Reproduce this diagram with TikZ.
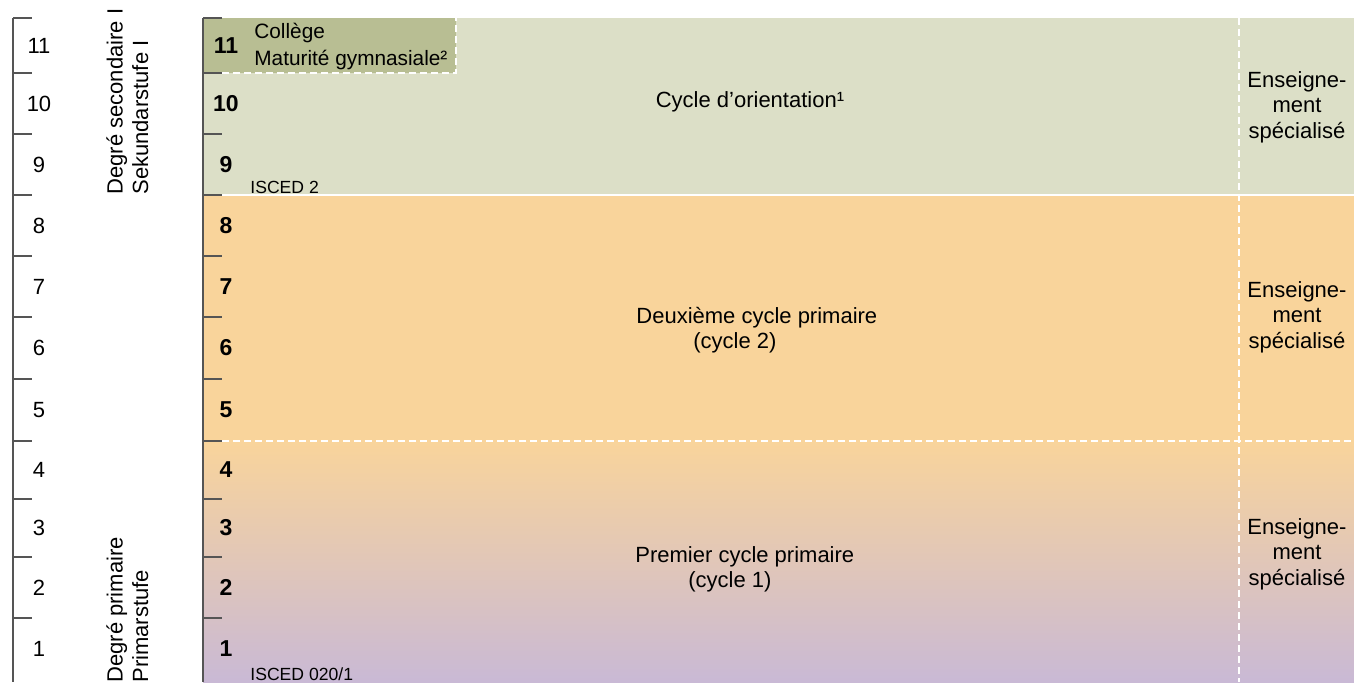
\documentclass[tikz,border=0pt]{standalone}
\usepackage{fontspec}
\setmainfont{Liberation Sans}
\definecolor{secgreen}{HTML}{DCDFC7}
\definecolor{collgreen}{HTML}{B8BE93}
\definecolor{primorange}{HTML}{F9D49B}
\definecolor{primpurple}{HTML}{C9B9D5}
\definecolor{axisgray}{HTML}{555555}
\tikzset{
  lbl/.style={font=\fontsize{11}{12.75}\selectfont, inner sep=0pt},
  grade/.style={font=\fontsize{11.5}{12.75}\selectfont\bfseries, inner sep=0pt},
  isced/.style={font=\fontsize{8.8}{10}\selectfont, inner sep=0pt, anchor=base west},
  axis/.style={axisgray, line width=0.75pt},
  whiteline/.style={white, line width=0.6pt},
  cut/.style={white, line width=0.6pt, dash pattern=on 3.5pt off 2pt}
}
\begin{document}
\begin{tikzpicture}[x=0.5pt,y=-0.5pt]
  \useasboundingbox (0,0) rectangle (1354,682);
  % bands
  \fill[secgreen] (203,18) rectangle (1354,195);
  \fill[primorange] (203,195) rectangle (1354,441);
  \shade[top color=primorange,bottom color=primpurple] (203,441) rectangle (1354,682);
  \fill[collgreen] (203,18) rectangle (456,73);
  \draw[whiteline] (222,195) -- (1354,195);
  \draw[cut] (222,441) -- (1354,441);
  \draw[cut] (1239,18) -- (1239,682);
  \draw[cut] (222,73) -- (456,73) -- (456,18);
  % scales
  \draw[axis] (13,18) -- (13,682);
  \draw[axis] (203,18) -- (203,682);
  \foreach \y in {18,73,134,195,256,317,379,441,499,557,618}{
    \draw[axis] (13,\y) -- (32,\y);
    \draw[axis] (203,\y) -- (222,\y);
  }
  \foreach \n/\y in {11/46,10/103.5,9/164.5,8/225.5,7/286.5,6/348,5/410,4/470,3/528,2/587.5,1/649}{
    \node[lbl] (s\n) at (39,\y) {\n};
    \node[grade] (g\n) at (226,\y) {\n};
  }
  \node[lbl, rotate=90, anchor=north west, align=left] (sec) at (106,195) {Degré secondaire I\\Sekundarstufe I};
  \node[lbl, rotate=90, anchor=north west, align=left] (prim) at (106,683) {Degré primaire\\Primarstufe};
  % labels
  \node[lbl, font=\fontsize{10.4}{12}\selectfont, anchor=base west] (coll) at (254,38) {Collège};
  \node[lbl, font=\fontsize{10.4}{12}\selectfont, anchor=base west] (matu) at (254,65) {Maturité gymnasiale²};
  \node[lbl, anchor=base] (co) at (750,107) {Cycle d’orientation¹};
  \node[lbl, anchor=base west] (cyc2) at (636,323) {Deuxième cycle primaire};
  \node[lbl, anchor=base west] (cyc2b) at (693,348) {(cycle 2)};
  \node[lbl, anchor=base west] (cyc1) at (635,562) {Premier cycle primaire};
  \node[lbl, anchor=base west] (cyc1b) at (688,587) {(cycle 1)};
  \foreach \y/\m in {107/a,317/b,554/c}
    \node[lbl, align=center] (spec\m) at (1297,\y) {Enseigne-\\ment\\spécialisé};
  \node[isced] (isc2) at (250,193) {ISCED 2};
  \node[isced] (isc1) at (250,680) {ISCED 020/1};
\end{tikzpicture}
\end{document}
